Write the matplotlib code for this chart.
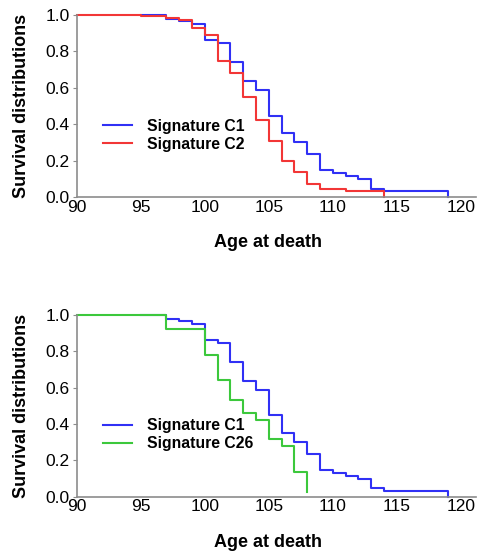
import matplotlib
matplotlib.use("Agg")
import matplotlib.pyplot as plt

plt.rcParams['font.family'] = ['Liberation Sans', 'DejaVu Sans']

# Kaplan-Meier style step data (age, survival)
c1_age = [95, 97, 98, 99, 100, 101, 102, 103, 104, 105, 106, 107, 108, 109,
          110, 111, 112, 113, 114, 119]
c1_surv = [1.0, 0.98, 0.965, 0.952, 0.865, 0.848, 0.74, 0.637, 0.587, 0.447,
           0.353, 0.303, 0.237, 0.148, 0.13, 0.114, 0.097, 0.046, 0.031, 0.0]

c2_age = [90, 95, 97, 98, 99, 100, 101, 102, 103, 104, 105, 106, 107, 108,
          109, 111, 114]
c2_surv = [1.0, 0.995, 0.982, 0.97, 0.927, 0.891, 0.746, 0.679, 0.55, 0.423,
           0.307, 0.197, 0.138, 0.074, 0.042, 0.031, 0.0]

c26_age = [90, 97, 100, 101, 102, 103, 104, 105, 106, 107, 108]
c26_surv = [1.0, 0.921, 0.78, 0.642, 0.53, 0.46, 0.42, 0.318, 0.28, 0.138,
            0.026]

xticks = [90, 95, 100, 105, 110, 115, 120]
yticks = [0.0, 0.2, 0.4, 0.6, 0.8, 1.0]

BLUE = "#3030f5"
RED = "#f23636"
GREEN = "#3cc83c"

fig = plt.figure(figsize=(4.78, 5.53), dpi=100)
ax_top = fig.add_axes([0.1605, 0.6438, 0.8355, 0.3291])
ax_bot = fig.add_axes([0.1605, 0.1018, 0.8355, 0.3286])


def style_axes(ax):
    ax.set_xlim(90, 121.2)
    ax.set_ylim(0, 1.0)
    ax.set_xticks(xticks)
    ax.set_yticks(yticks)
    ax.set_yticklabels([f"{v:.1f}" for v in yticks])
    for side in ("top", "right"):
        ax.spines[side].set_visible(False)
    for side in ("left", "bottom"):
        ax.spines[side].set_color("#8c8c8c")
        ax.spines[side].set_linewidth(1.2)
    ax.tick_params(axis="x", length=0, pad=2, labelsize=12.5)
    ax.tick_params(axis="y", length=3, color="#8c8c8c", pad=2, labelsize=12.5)
    ax.set_xlabel("Age at death", fontsize=13, fontweight="bold")
    ax.xaxis.set_label_coords(0.478, -0.205)
    ax.set_ylabel("Survival distributions", fontsize=13, fontweight="bold")
    ax.yaxis.set_label_coords(-0.118, 0.5)
    ax.legend(loc="center left", bbox_to_anchor=(0.03, 0.34), frameon=False,
              prop={"weight": "bold", "size": 11.3}, handlelength=1.85,
              handletextpad=0.95, labelspacing=0.2)


for line in ax_top.plot(c1_age, c1_surv, drawstyle="steps-post", color=BLUE,
                        lw=1.5, label="Signature C1"):
    line.set_clip_on(False)
for line in ax_top.plot(c2_age, c2_surv, drawstyle="steps-post", color=RED,
                        lw=1.5, label="Signature C2"):
    line.set_clip_on(False)
style_axes(ax_top)

for line in ax_bot.plot(c1_age, c1_surv, drawstyle="steps-post", color=BLUE,
                        lw=1.5, label="Signature C1"):
    line.set_clip_on(False)
for line in ax_bot.plot(c26_age, c26_surv, drawstyle="steps-post", color=GREEN,
                        lw=1.5, label="Signature C26"):
    line.set_clip_on(False)
style_axes(ax_bot)

fig.savefig("out.png", dpi=100)
